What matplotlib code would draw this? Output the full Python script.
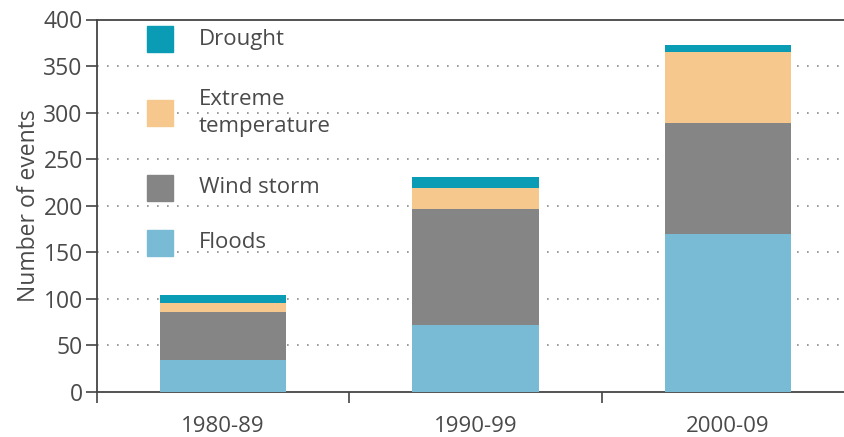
import matplotlib
matplotlib.use("Agg")
import matplotlib.pyplot as plt
from matplotlib.patches import Rectangle
import numpy as np

categories = ["1980-89", "1990-99", "2000-09"]
floods = [34, 72, 170]
wind_storm = [52, 125, 119]
extreme_temp = [10, 22, 76]
drought = [8, 12, 8]
yticks = [0, 50, 100, 150, 200, 250, 300, 350, 400]

series = [("Floods", floods, "#79bbd4"),
          ("Wind storm", wind_storm, "#858585"),
          ("Extreme\ntemperature", extreme_temp, "#f7c88e"),
          ("Drought", drought, "#0a9bb5")]

plt.rcParams['font.family'] = ['Open Sans', 'DejaVu Sans']
txt = "#4a4a4a"

fig = plt.figure(figsize=(8.44, 4.37), dpi=100)
ax = fig.add_axes([96.7/844, 1-392/437, 1-96.7/844, (392-19.5)/437])

x = np.arange(len(categories))
bottom = np.zeros(len(categories))
for name, vals, col in series:
    ax.bar(x, vals, width=0.5, bottom=bottom, color=col, zorder=3)
    bottom += np.array(vals)

ax.set_xlim(-0.5, 2.46)
ax.set_ylim(0, 400)
ax.set_yticks(yticks)
ax.set_yticklabels([str(v) for v in yticks], fontsize=16.5, color=txt)
ax.set_xticks(x)
ax.set_xticklabels(categories, fontsize=16, color=txt)
ax.set_xticks([-0.5, 0.5, 1.5], minor=True)
ax.tick_params(axis='x', which='major', length=0, pad=17)
ax.tick_params(axis='x', which='minor', length=8, width=1.2, color="#444444", direction='out')
ax.tick_params(axis='y', length=8, width=1.2, color="#444444", pad=2)
ax.set_ylabel("Number of events", fontsize=16.5, color=txt, labelpad=2)

for s in ['left', 'bottom', 'top']:
    ax.spines[s].set_color("#444444")
    ax.spines[s].set_linewidth(1.3)
ax.spines['right'].set_visible(False)

for v in yticks[1:-1]:
    ax.axhline(v, color="#8a8a8a", linewidth=1.2, linestyle=(0, (1, 5)), zorder=1)

# legend (manual, figure pixel coords)
leg = [("Drought", "#0a9bb5", 39),
       ("Extreme\ntemperature", "#f7c88e", 113),
       ("Wind storm", "#858585", 188),
       ("Floods", "#79bbd4", 243)]
for name, col, yc in leg:
    fig.patches.append(Rectangle((147/844, 1-(yc+13)/437), 26/844, 26/437,
                                 transform=fig.transFigure, color=col, zorder=5))
    fig.text(199/844, 1-yc/437, name, fontsize=16, color=txt, va='center', ha='left',
             linespacing=1.4, zorder=6)

fig.savefig("out.png", dpi=100)
